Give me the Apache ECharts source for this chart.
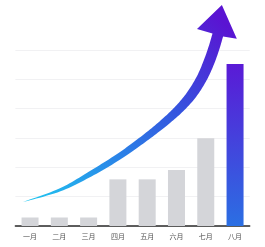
<!DOCTYPE html>
<html><head><meta charset="utf-8">
<script src="https://cdn.jsdelivr.net/npm/echarts@6/dist/echarts.min.js"></script>
<style>html,body{margin:0;padding:0;background:#fff}#c{width:265px;height:247px}</style>
</head><body><div id="c"></div>
<script>
var categories = ['一月','二月','三月','四月','五月','六月','七月','八月'];
var values = [0.29, 0.29, 0.29, 1.59, 1.59, 1.91, 2.99, 5.52];
// trend arrow path (x in category units 0..8, y in value units)
var arrowX = [0.26, 1.52, 2.55, 3.57, 4.42, 5.11, 5.62, 6.03, 6.37, 6.61, 6.78, 6.91];
var arrowY = [0.82, 1.23, 1.77, 2.39, 3.00, 3.55, 4.02, 4.50, 5.05, 5.59, 6.07, 6.51];
var headX = [6.20, 7.05, 7.56];
var headY = [6.72, 7.53, 6.38];

var chart = echarts.init(document.getElementById('c'), null, {renderer:'canvas'});

function catmull(pts, n) {
  var out = [];
  for (var i = 0; i < pts.length - 1; i++) {
    var p0 = pts[Math.max(i-1,0)], p1 = pts[i], p2 = pts[i+1], p3 = pts[Math.min(i+2,pts.length-1)];
    for (var k = 0; k < n; k++) {
      var t = k / n, t2 = t*t, t3 = t2*t;
      var x = 0.5*((2*p1[0]) + (-p0[0]+p2[0])*t + (2*p0[0]-5*p1[0]+4*p2[0]-p3[0])*t2 + (-p0[0]+3*p1[0]-3*p2[0]+p3[0])*t3);
      var y = 0.5*((2*p1[1]) + (-p0[1]+p2[1])*t + (2*p0[1]-5*p1[1]+4*p2[1]-p3[1])*t2 + (-p0[1]+3*p1[1]-3*p2[1]+p3[1])*t3);
      out.push([x, y, i + t]);
    }
  }
  var l = pts[pts.length-1];
  out.push([l[0], l[1], pts.length-1]);
  return out;
}
var widthProfile = [0, 3, 5.5, 6.5, 7, 8, 9, 10, 10.5, 11, 11, 11];

function renderArrow(params, api) {
  var pts = arrowX.map(function (x, i) { return api.coord([x, arrowY[i]]); });
  var s = catmull(pts, 12);
  var A = [], B = [];
  for (var i = 0; i < s.length; i++) {
    var a = s[Math.max(i-1,0)], b = s[Math.min(i+1,s.length-1)];
    var dx = b[0]-a[0], dy = b[1]-a[1], L = Math.sqrt(dx*dx+dy*dy) || 1;
    dx /= L; dy /= L;
    var nx = dy, ny = -dx;
    var f = s[i][2], fi = Math.floor(f), fr = f - fi;
    var w = widthProfile[fi] + (fi+1 < widthProfile.length ? (widthProfile[fi+1]-widthProfile[fi])*fr : 0);
    A.push([s[i][0] + nx*w/2, s[i][1] + ny*w/2]);
    B.push([s[i][0] - nx*w/2, s[i][1] - ny*w/2]);
  }
  var head = headX.map(function (x, i) { return api.coord([x, headY[i]]); });
  var poly = A.concat(head).concat(B.reverse());
  return {
    type: 'polygon',
    shape: { points: poly },
    style: {
      fill: { type:'linear', x:0, y:1, x2:0.85, y2:0, colorStops:[
        {offset:0, color:'#20c8f0'},
        {offset:0.35, color:'#2a86e8'},
        {offset:0.65, color:'#3552de'},
        {offset:1, color:'#5a14d2'}
      ]}
    }
  };
}

chart.setOption({
  animation: false,
  backgroundColor: '#ffffff',
  grid: { left: 15.4, right: 15.3, top: 50, bottom: 21 },
  xAxis: [{
    type: 'category', data: categories,
    axisLine: { lineStyle: { color: '#2a2a2a', width: 1.5 } },
    axisTick: { show: false },
    axisLabel: { color: '#555', fontSize: 7, margin: 7, fontFamily: 'Noto Sans CJK SC' }
  }, {
    type: 'value', min: 0, max: 8, show: false
  }],
  yAxis: {
    type: 'value', min: 0, max: 6, interval: 1,
    axisLabel: { show: false }, axisLine: { show: false }, axisTick: { show: false },
    splitLine: { lineStyle: { color: '#f1f1f3', width: 1 } }
  },
  series: [{
    type: 'bar', barWidth: 17, xAxisIndex: 0,
    data: values.map(function (v, i) {
      return i === values.length - 1 ? {
        value: v,
        itemStyle: { color: { type:'linear', x:0, y:0, x2:0, y2:1, colorStops:[
          {offset:0, color:'#5a1ad6'}, {offset:1, color:'#2b6fe3'}] } }
      } : { value: v, itemStyle: { color: '#d4d5d9' } };
    })
  }, {
    type: 'custom', xAxisIndex: 1, yAxisIndex: 0, clip: false, z: 5,
    data: [[0, 0]],
    renderItem: renderArrow
  }]
});
</script></body></html>
